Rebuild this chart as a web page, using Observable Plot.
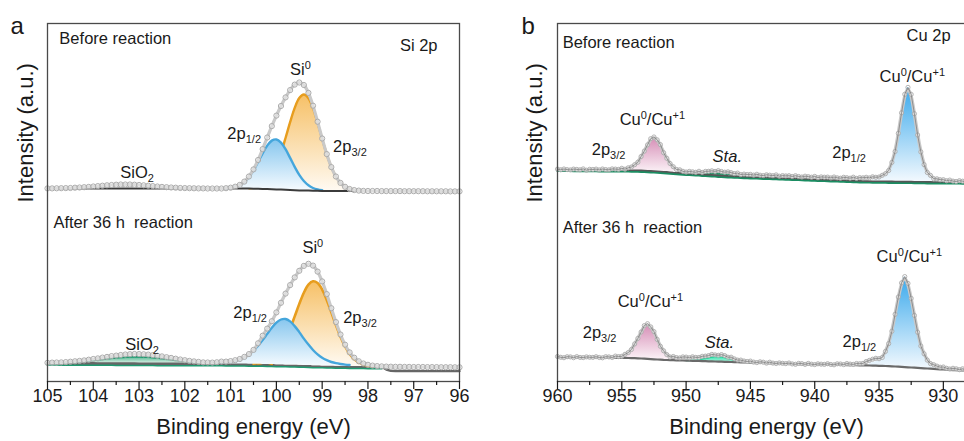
<!DOCTYPE html>
<html><head><meta charset="utf-8">
<script src="https://cdn.jsdelivr.net/npm/d3@7"></script>
<script src="https://cdn.jsdelivr.net/npm/@observablehq/plot@0.6"></script>
<style>
html,body{margin:0;padding:0;background:#fff}
body{width:964px;height:441px;overflow:hidden;position:relative;font-family:"Liberation Sans",Arial,sans-serif}
#a{position:absolute;left:0;top:0;width:480px;height:441px}
#b{position:absolute;left:490px;top:0;width:500px;height:441px}
</style></head><body>
<div id="a"></div><div id="b"></div>
<script>
// ---------------- DATA ----------------
// Si 2p (panel a): energies 105.0 -> 96.0 eV, step 0.1 eV; intensities in a.u.
const siTicks = [105,104,103,102,101,100,99,98,97,96];
const siMinor = [104.5,103.5,102.5,101.5,100.5,99.5,98.5,97.5,96.5];
const siBeforeData = [193.1,193.1,193.2,193.3,193.4,193.5,193.8,194.0,194.3,194.6,195.0,195.4,195.8,196.2,196.5,196.8,197.0,197.0,197.0,196.8,196.5,196.2,195.8,195.4,195.0,194.6,194.3,194.0,193.8,193.5,193.4,193.3,193.2,193.1,193.1,193.0,193.0,193.0,193.0,193.3,193.8,
194.8,196.6,199.9,205.0,212.1,221.5,232.4,244.0,255.4,265.9,275.5,284.1,291.4,296.9,299.0,296.5,288.6,275.8,259.8,243.0,227.4,214.4,205.0,198.6,194.7,192.5,191.4,190.9,190.6,190.5,190.5,190.5,190.4,190.4,190.4,190.4,190.4,190.3,190.3,190.3,190.3,190.3,190.2,190.2,190.2,190.2,190.2,190.1,190.1,190.1];
const siBeforeBg = [193.0,193.0,193.0,193.0,193.0,193.0,193.0,193.0,193.0,193.0,193.0,193.0,193.0,193.0,193.0,193.0,193.0,193.0,193.0,193.0,193.0,193.0,193.0,193.0,193.0,193.0,193.0,193.0,193.0,193.0,193.0,193.0,193.0,193.0,193.0,193.0,193.0,193.0,193.0,193.0,193.0,193.0,193.0,
192.9,192.9,192.8,192.7,192.6,192.4,192.3,192.1,191.9,191.7,191.5,191.3,191.1,191.0,190.9,190.8,190.7,190.6,190.5,190.5,190.5,190.5,190.5,190.5,190.5,190.5];
const siBeforeBlue = [0.3,0.8,1.8,3.6,6.8,11.7,18.4,26.8,35.6,43.5,48.6,49.9,47.0,40.6,32.1,23.3,15.5,9.5,5.3,2.7,1.3,0.6]; // 101.1 -> 99.0
const siBeforeOrange = [0.4,0.9,2.0,4.2,8.1,14.5,23.9,36.6,51.8,67.8,82.3,92.4,96,92.4,82.3,67.8,51.8,36.6,23.9,14.5,8.1,4.2,2.0,0.9,0.4]; // 100.6 -> 98.2

const siAfterData = [18.7,18.9,19.0,19.1,19.4,19.8,20.2,20.6,21.1,21.8,22.5,23.1,23.9,24.6,25.4,25.9,26.5,27.0,27.3,27.5,27.4,27.2,26.9,26.4,25.7,25.1,24.3,23.6,22.8,22.0,21.3,20.6,20.1,19.6,19.1,19.0,18.9,19.2,19.9,19.9,20.4,
21.3,22.5,24.6,27.4,31.6,38.2,45.8,52.9,60.3,69.1,78.7,87.9,96.4,104.1,110.7,115.6,117.7,115.9,109.9,100.1,87.4,73.3,59.4,47.0,36.8,29.1,23.8,20.2,18.0,16.7,15.9,15.4,15.1,14.9,14.8,14.7,14.7,14.6,14.6,14.5,14.5,14.5,14.4,14.4,14.4,14.3,14.3,14.3,14.2,14.2];
const siAfterBg = [18.4,18.4,18.4,18.3,18.3,18.3,18.3,18.2,18.2,18.2,18.2,18.1,18.1,18.1,18.1,18.0,18.0,18.0,18.0,18.0,17.9,17.9,17.9,17.9,17.8,17.8,17.8,17.8,17.8,17.7,17.7,17.7,17.7,17.7,17.6,17.6,17.6,17.6,17.6,17.5,17.5,
17.5,17.4,17.4,17.3,17.3,17.2,17.1,17.0,16.9,16.8,16.7,16.6,16.5,16.4,16.3,16.1,16.0,15.8,15.7,15.6,15.5,15.4,15.3,15.2,15.1,15.0,15.0,14.9,14.9,14.8,14.8,14.7,14.7,12.0,10.6,10.5,10.5,10.5,10.5,10.5,10.5,10.4,10.4,10.4,10.4,10.4,10.4,10.4,10.4,10.4];
const siAfterSiO2 = [0.22,0.31,0.43,0.59,0.78,1.03,1.32,1.66,2.05,2.5,2.98,3.5,4.03,4.56,5.08,5.55,5.96,6.29,6.52,6.64,6.64,6.52,6.29,5.96,5.55,5.08,4.56,4.03,3.5,2.98,2.5,2.05,1.66,1.32,1.03,0.78,0.59,0.43]; // 105.0 -> 101.3
const siAfterBlue = [1.8,2.1,2.7,3.6,5.0,7.1,10.0,13.8,18.7,24.4,30.6,36.8,42.0,45.3,45.9,43.6,39.0,33.1,26.8,20.9,15.7,11.4,8.1,5.8,4.1,3.0,2.3,1.8,1.5]; // 101.2 -> 98.4
const siAfterOrange = [0.8,1.7,3.3,6.0,10.3,16.7,25.4,36.3,48.7,61.3,72.7,80.8,84.4,82.8,76.4,66.1,53.8,41.1,29.5,19.9,12.6,7.5,4.2,2.2,1.1,0.5]; // 100.4 -> 97.9
const siAfterSub = [0.3,1.5,2.6,2.0,0.6]; // 100.5 -> 100.1

// Cu 2p (panel b): energies 960.0 -> 927.5 eV, step 0.25 eV
const cuTicks = [960,955,950,945,940,935,930];
const cuMinor = [957.5,952.5,947.5,942.5,937.5,932.5,927.5];
const cuBeforeData = [212.4,211.7,212.5,211.9,211.6,212.4,212.1,211.7,212.6,211.3,212.2,212.0,212.4,211.6,212.5,211.9,211.7,212.6,212.4,212.1,213.2,
212.3,213.7,214.5,216.8,219.3,225.0,230.4,236.6,242.8,244.5,241.7,236.9,228.8,223.2,218.0,214.8,212.0,211.7,210.2,209.5,
210.1,209.7,209.2,210.2,209.1,210.1,210.2,210.7,210.1,210.9,210.0,209.3,209.7,208.9,207.9,208.4,206.9,207.4,207.0,207.1,
206.4,207.2,206.3,205.9,206.7,206.3,205.8,206.6,205.3,205.9,205.6,205.8,205.0,205.8,205.0,204.5,205.3,204.9,204.3,205.1,
203.8,204.6,204.3,204.4,203.6,204.5,203.7,203.3,204.2,203.8,203.3,204.3,203.1,203.9,203.7,204.2,203.6,204.7,204.2,204.5,
206.2,207.8,211.0,219.1,230.0,248.2,268.7,287.2,294.1,287.1,267.8,246.5,229.6,216.9,209.0,206.1,202.8,202.7,201.8,201.8,
200.7,201.4,200.4,200.0,200.8,200.3,199.8,200.6,199.4,200.1];
const cuBeforeBg = [212.0,212.0,211.9,211.9,211.9,211.8,211.8,211.8,211.8,211.7,211.7,211.7,211.7,211.6,211.6,211.6,211.6,211.5,211.5,211.5,211.5,
211.4,211.4,211.3,211.3,211.2,211.1,211.0,210.8,210.6,210.4,210.2,210.0,209.8,209.6,209.3,209.0,208.8,208.6,208.3,208.1,
207.9,207.8,207.6,207.4,207.1,206.9,206.8,206.6,206.4,206.1,205.9,205.8,205.6,205.5,205.3,205.2,205.0,204.8,204.7,204.6,
204.5,204.4,204.2,204.1,204.0,203.9,203.8,203.7,203.6,203.4,203.3,203.2,203.1,203.0,202.9,202.7,202.6,202.5,202.3,202.2,
202.1,202.0,201.9,201.7,201.6,201.5,201.4,201.3,201.2,201.1,200.9,200.8,200.7,200.6,200.5,200.4,200.4,200.3,200.3,200.2,
200.2,200.2,200.1,200.1,200.0,200.0,199.9,199.9,199.9,199.9,199.8,199.8,199.8,199.7,199.6,199.6,199.5,199.5,199.5,199.5,
199.4,199.4,199.4,199.4,199.4,199.3,199.3,199.3,199.3,199.3];
const cuBeforePink = [1.1,1.5,2.1,3.2,5.2,8.5,13.4,19.6,26.3,31.8,34,31.8,26.3,19.6,13.4,8.5,5.2,3.2,2.1,1.5,1.1]; // 955.0 -> 950.0
const cuBeforeMain = [2.0,2.3,3.0,3.9,5.9,9.7,17.1,29.4,47.0,67.9,86.3,94,86.3,67.9,47.0,29.4,17.1,9.7,5.9,3.9,3.0,2.3,2.0]; // 935.5 -> 930.0
const cuBeforeSat = [0.05,0.11,0.21,0.38,0.62,0.95,1.35,1.77,2.14,2.4,2.5,2.4,2.14,1.77,1.35,0.95,0.62,0.38,0.21,0.11,0.05]; // 950.0 -> 945.0

const cuAfterData = [25.0,24.2,23.8,24.8,24.6,23.8,24.9,24.1,23.9,24.6,24.2,24.1,24.8,24.0,23.7,24.8,24.6,24.0,25.4,24.9,25.2,
27.2,28.9,32.0,37.6,43.1,49.5,55.9,57.8,54.6,49.9,42.1,35.2,30.7,26.9,24.5,25.0,23.9,23.6,24.6,24.4,
23.7,24.7,24.1,24.1,25.2,25.4,25.9,27.1,26.6,26.2,26.9,25.9,24.3,24.3,22.6,21.4,21.4,20.5,20.0,20.4,
19.4,18.9,19.7,19.3,18.4,19.3,18.4,18.0,18.6,18.2,17.9,18.5,17.6,17.2,18.1,17.9,17.1,18.1,17.3,16.9,
17.7,17.3,17.1,17.8,17.0,16.7,17.7,17.5,16.9,18.0,17.4,17.1,18.0,17.8,18.1,20.0,21.1,22.3,23.2,22.8,
24.0,30.1,37.9,50.3,67.2,84.5,98.6,104.9,98.1,83.1,66.1,49.3,35.5,27.7,21.4,17.9,16.8,15.4,14.3,14.5,
13.2,12.5,13.2,12.7,11.8,12.7,11.8,11.3,11.8,11.4];
const cuAfterBg = [24.3,24.3,24.2,24.2,24.2,24.1,24.1,24.0,24.0,24.0,23.9,23.9,23.9,23.8,23.8,23.8,23.7,23.7,23.7,23.6,23.6,
23.6,23.5,23.4,23.3,23.2,23.0,22.8,22.6,22.4,22.2,22.0,21.8,21.6,21.5,21.4,21.3,21.2,21.1,21.0,20.9,
20.8,20.7,20.6,20.5,20.4,20.3,20.2,20.1,20.0,19.9,19.8,19.7,19.6,19.5,19.4,19.3,19.2,19.1,19.0,18.9,
18.8,18.7,18.6,18.5,18.4,18.3,18.2,18.1,18.0,17.9,17.8,17.7,17.6,17.5,17.4,17.3,17.2,17.1,17.0,16.9,
16.9,16.8,16.8,16.7,16.7,16.6,16.6,16.5,16.5,16.4,16.4,16.3,16.3,16.2,16.2,16.1,16.0,15.9,15.8,15.7,
15.6,15.5,15.4,15.2,15.0,14.8,14.6,14.4,14.2,14.0,13.8,13.6,13.4,13.2,13.0,12.8,12.6,12.4,12.2,12.0,
11.8,11.6,11.4,11.3,11.2,11.1,11.0,10.9,10.8,10.7];
const cuAfterPink = [1.15,1.5,2.2,3.3,5.4,8.75,13.8,20.2,27.1,32.7,35,32.7,27.1,20.2,13.8,8.75,5.4,3.3,2.2,1.5,1.15]; // 955.5 -> 950.5
const cuAfterMain = [2.3,3.0,3.9,5.5,8.5,13.9,22.6,35.5,51.9,69.7,84.2,90,84.2,69.7,51.9,35.5,22.6,13.9,8.5,5.5,3.9,3.0,2.3]; // 935.75 -> 930.25
const cuAfterSat = [0.1,0.21,0.43,0.76,1.24,1.9,2.7,3.53,4.29,4.82,5.0,4.82,4.29,3.53,2.7,1.9,1.24,0.76,0.43,0.21,0.1]; // 950.0 -> 945.0

// annotation labels (energy, intensity)
const siLabels = [
  {E:104.73,u:337,t:"Before reaction"},{E:97.29,u:330,t:"Si 2p"},{E:99.69,u:306,t:"Si^{0}"},
  {E:101.06,u:242,t:"2p_{1/2}"},{E:98.75,u:229,t:"2p_{3/2}"},{E:103.4,u:203,t:"SiO_{2}"},
  {E:104.86,u:153,t:"After 36 h  reaction"},{E:99.42,u:128,t:"Si^{0}"},
  {E:100.93,u:63,t:"2p_{1/2}"},{E:98.53,u:58,t:"2p_{3/2}"},{E:103.29,u:31,t:"SiO_{2}"}
];
const cuLabels = [
  {E:959.56,u:333,t:"Before reaction"},{E:932.82,u:340,t:"Cu 2p"},{E:934.92,u:299,t:"Cu^{0}/Cu^{+1}"},
  {E:955.13,u:256,t:"Cu^{0}/Cu^{+1}"},{E:957.3,u:226,t:"2p_{3/2}"},{E:947.9,u:219,t:"Sta.",it:true},
  {E:938.6,u:223,t:"2p_{1/2}"},{E:959.56,u:148,t:"After 36 h  reaction"},{E:935.15,u:119,t:"Cu^{0}/Cu^{+1}"},
  {E:955.28,u:74,t:"Cu^{0}/Cu^{+1}"},{E:958.0,u:43,t:"2p_{3/2}"},{E:948.52,u:33,t:"Sta.",it:true},{E:937.8,u:34,t:"2p_{1/2}"}
];

// ---------------- HELPERS ----------------
function series(start, step, vals){ return vals.map((v,i)=>({E:+(start-i*step).toFixed(3), y:v})); }
function comp(start, step, h, bgStart, bg){
  return h.map((v,i)=>{ const E=+(start-i*step).toFixed(3); const k=Math.round((bgStart-E)/step); return {E, base:bg[k], top:bg[k]+v}; });
}
function defs(specs){
  return () => {
    const ns="http://www.w3.org/2000/svg";
    const d=document.createElementNS(ns,"defs");
    for (const [id,c0,c1] of specs){
      const g=document.createElementNS(ns,"linearGradient");
      g.setAttribute("id",id); g.setAttribute("x1","0"); g.setAttribute("y1","0"); g.setAttribute("x2","0"); g.setAttribute("y2","1");
      [[0,c0],[1,c1]].forEach(([o,c])=>{const s=document.createElementNS(ns,"stop"); s.setAttribute("offset",o); s.setAttribute("stop-color",c); g.appendChild(s);});
      d.appendChild(g);
    }
    return d;
  };
}
function addLabels(plot, labels){
  const sx=plot.scale("x"), sy=plot.scale("y");
  const fx = v => sx.apply(v), fy = v => sy.apply(v);
  const svg=d3.select(plot);
  for (const L of labels){
    const t=svg.append("text").attr("x",fx(L.E)).attr("y",fy(L.u)).attr("fill","#1a1a1a").attr("text-anchor","start")
      .attr("font-family","Liberation Sans, Arial, sans-serif").attr("font-size",16.5).style("white-space","pre");
    if (L.it) t.attr("font-style","italic");
    const parts=L.t.split(/(\^\{[^}]*\}|_\{[^}]*\})/).filter(p=>p!=="");
    let shift=0;
    for (const p of parts){
      let content=p, fs=16.5, target=0;
      if (p.startsWith("^{")){content=p.slice(2,-1); fs=11; target=-6.5;}
      else if (p.startsWith("_{")){content=p.slice(2,-1); fs=11; target=4;}
      const ts=t.append("tspan").attr("font-size",fs).text(content);
      if (target!==shift){ ts.attr("dy",target-shift); shift=target; }
    }
  }
}
const FONT="Liberation Sans, Arial, sans-serif";

// ---------------- PANEL A ----------------
const sB = series(105,0.1,siBeforeData), sBbg = series(105,0.1,siBeforeBg);
const sBblue = comp(101.1,0.1,siBeforeBlue,105,siBeforeBg), sBor = comp(100.6,0.1,siBeforeOrange,105,siBeforeBg);
const sA = series(105,0.1,siAfterData), sAbg = series(105,0.1,siAfterBg);
const sAsio = comp(105,0.1,siAfterSiO2,105,siAfterBg), sAblue = comp(101.2,0.1,siAfterBlue,105,siAfterBg);
const sAor = comp(100.4,0.1,siAfterOrange,105,siAfterBg), sAsub = comp(100.5,0.1,siAfterSub,105,siAfterBg);

const BLUE="#45a6dc", ORANGE="#e79d1e", CR="catmull-rom";
const DOT="#ababab", ENV="#c9c9c9";
const plotA = Plot.plot({
  width:480, height:441, marginLeft:47, marginRight:21, marginTop:23, marginBottom:60,
  x:{domain:[105,96], axis:null}, y:{domain:[0,358], axis:null},
  style:{fontFamily:FONT, color:"#1a1a1a", background:"transparent", overflow:"visible"},
  marks:[
    defs([["ga-or","#f6c066","#fffaf2"],["ga-bl","#86c6ee","#f6fbff"],["ga-gr","#4fb58d","#e4f4ec"]]),
    // before
    Plot.areaY(sBor,{x:"E",y1:"base",y2:"top",fill:"url(#ga-or)",curve:CR}),
    Plot.line(sBor,{x:"E",y:"top",stroke:ORANGE,strokeWidth:2.4,curve:CR}),
    Plot.areaY(sBblue,{x:"E",y1:"base",y2:"top",fill:"url(#ga-bl)",curve:CR}),
    Plot.line(sBblue,{x:"E",y:"top",stroke:BLUE,strokeWidth:2.4,curve:CR}),
    Plot.line(sBbg,{x:"E",y:"y",stroke:"#3b3b3b",strokeWidth:2}),
    Plot.line(sB,{x:"E",y:"y",stroke:ENV,strokeWidth:3.2,curve:CR}),
    Plot.dot(sB,{x:"E",y:"y",r:2.6,stroke:DOT,strokeWidth:1,fill:"white",fillOpacity:0.35}),
    // after
    Plot.areaY(sAsio,{x:"E",y1:"base",y2:"top",fill:"url(#ga-gr)",curve:CR}),
    Plot.line(sAbg,{x:"E",y:"y",stroke:"#1f9a70",strokeWidth:2.2,dy:1.6,filter:d=>d.E>=97.7}),
    Plot.line(sAbg,{x:"E",y:"y",stroke:"#666",strokeWidth:2.4}),
    Plot.line(sAsio,{x:"E",y:"top",stroke:"#1f9a70",strokeWidth:1.6,curve:CR}),
    Plot.line(sAsub,{x:"E",y:"top",stroke:ORANGE,strokeWidth:2.4,curve:CR}),
    Plot.areaY(sAor,{x:"E",y1:"base",y2:"top",fill:"url(#ga-or)",curve:CR}),
    Plot.line(sAor,{x:"E",y:"top",stroke:ORANGE,strokeWidth:2.6,curve:CR}),
    Plot.areaY(sAblue,{x:"E",y1:"base",y2:"top",fill:"url(#ga-bl)",curve:CR}),
    Plot.line(sAblue,{x:"E",y:"top",stroke:BLUE,strokeWidth:2.4,curve:CR}),
    Plot.line(sA,{x:"E",y:"y",stroke:ENV,strokeWidth:3.2,curve:CR}),
    Plot.dot(sA,{x:"E",y:"y",r:2.6,stroke:DOT,strokeWidth:1,fill:"white",fillOpacity:0.35}),
    Plot.frame({stroke:"#4a4a4a",strokeWidth:1.3}),
    Plot.axisX({ticks:siTicks,tickSize:8,tickPadding:0,fontSize:18,strokeWidth:1.2,label:null,tickFormat:d=>String(d)}),
    Plot.axisX({ticks:siMinor,tickSize:4,strokeWidth:1.2,label:null,tickFormat:()=>""}),
    Plot.text(["Binding energy (eV)"],{text:d=>d,frameAnchor:"bottom",dy:52,lineAnchor:"bottom",fontSize:22}),
    Plot.text(["Intensity (a.u.)"],{text:d=>d,frameAnchor:"left",rotate:-90,dx:-15,lineAnchor:"bottom",fontSize:22}),
    Plot.text(["a"],{text:d=>d,frameAnchor:"top-left",dx:-37,dy:10,lineAnchor:"bottom",textAnchor:"start",fontSize:24})
  ]
});
document.getElementById("a").appendChild(plotA);
addLabels(plotA, siLabels);

// ---------------- PANEL B ----------------
const cB = series(960,0.25,cuBeforeData), cBbg = series(960,0.25,cuBeforeBg);
const cBpink = comp(955.0,0.25,cuBeforePink,960,cuBeforeBg), cBmain = comp(935.5,0.25,cuBeforeMain,960,cuBeforeBg), cBsat = comp(950.0,0.25,cuBeforeSat,960,cuBeforeBg);
const cA = series(960,0.25,cuAfterData), cAbg = series(960,0.25,cuAfterBg);
const cApink = comp(955.5,0.25,cuAfterPink,960,cuAfterBg), cAmain = comp(935.75,0.25,cuAfterMain,960,cuAfterBg), cAsat = comp(950.0,0.25,cuAfterSat,960,cuAfterBg);

const plotB = Plot.plot({
  width:500, height:441, marginLeft:67, marginRight:15, marginTop:23, marginBottom:60,
  x:{domain:[960,927.5], axis:null}, y:{domain:[0,358], axis:null},
  style:{fontFamily:FONT, color:"#1a1a1a", background:"transparent", overflow:"visible"},
  marks:[
    defs([["gb-pk","#d58cb5","#fcf4f8"],["gb-bl","#3aa9ec","#f3f9fe"],["gb-gd","#1e8b60","#3a9f78"],["gb-mt","#2ee3ad","#b4f4de"]]),
    // before
    Plot.areaY(cBpink,{x:"E",y1:"base",y2:"top",fill:"url(#gb-pk)",curve:CR}),
    Plot.line(cBpink,{x:"E",y:"top",stroke:"#c98db0",strokeWidth:1.2,curve:CR}),
    Plot.areaY(cBmain,{x:"E",y1:"base",y2:"top",fill:"url(#gb-bl)",curve:CR}),
    Plot.areaY(cBsat,{x:"E",y1:"base",y2:"top",fill:"url(#gb-gd)",curve:CR}),
    Plot.line(cBbg,{x:"E",y:"y",stroke:"#1b8d62",strokeWidth:2.4,dy:1.3}),
    Plot.line(cBbg,{x:"E",y:"y",stroke:"#555",strokeWidth:1.6}),
    Plot.line(cB,{x:"E",y:"y",stroke:ENV,strokeWidth:3.4,curve:"basis"}),
    Plot.dot(cB,{x:"E",y:"y",r:2.1,stroke:DOT,strokeWidth:0.9,fill:"white",fillOpacity:0.35}),
    Plot.line(cB,{x:"E",y:"y",stroke:"#767676",strokeWidth:0.7}),
    // after
    Plot.areaY(cApink,{x:"E",y1:"base",y2:"top",fill:"url(#gb-pk)",curve:CR}),
    Plot.line(cApink,{x:"E",y:"top",stroke:"#c98db0",strokeWidth:1.2,curve:CR}),
    Plot.areaY(cAmain,{x:"E",y1:"base",y2:"top",fill:"url(#gb-bl)",curve:CR}),
    Plot.areaY(cAsat,{x:"E",y1:"base",y2:"top",fill:"url(#gb-mt)",curve:CR}),
    Plot.line(cAsat,{x:"E",y:"top",stroke:"#1fcf98",strokeWidth:1.3,curve:CR}),
    Plot.line(cAbg,{x:"E",y:"y",stroke:"#6a6a6a",strokeWidth:2.2}),
    Plot.line(cA,{x:"E",y:"y",stroke:ENV,strokeWidth:3.4,curve:"basis"}),
    Plot.dot(cA,{x:"E",y:"y",r:2.1,stroke:DOT,strokeWidth:0.9,fill:"white",fillOpacity:0.35}),
    Plot.line(cA,{x:"E",y:"y",stroke:"#767676",strokeWidth:0.7}),
    Plot.frame({stroke:"#4a4a4a",strokeWidth:1.3}),
    Plot.axisX({ticks:cuTicks,tickSize:8,tickPadding:0,fontSize:18,strokeWidth:1.2,label:null,tickFormat:d=>String(d)}),
    Plot.axisX({ticks:cuMinor,tickSize:4,strokeWidth:1.2,label:null,tickFormat:()=>""}),
    Plot.text(["Binding energy (eV)"],{text:d=>d,frameAnchor:"bottom",dy:52,lineAnchor:"bottom",fontSize:22}),
    Plot.text(["Intensity (a.u.)"],{text:d=>d,frameAnchor:"left",rotate:-90,dx:-16,lineAnchor:"bottom",fontSize:22}),
    Plot.text(["b"],{text:d=>d,frameAnchor:"top-left",dx:-36,dy:10,lineAnchor:"bottom",textAnchor:"start",fontSize:24})
  ]
});
document.getElementById("b").appendChild(plotB);
addLabels(plotB, cuLabels);
</script>
</body></html>
